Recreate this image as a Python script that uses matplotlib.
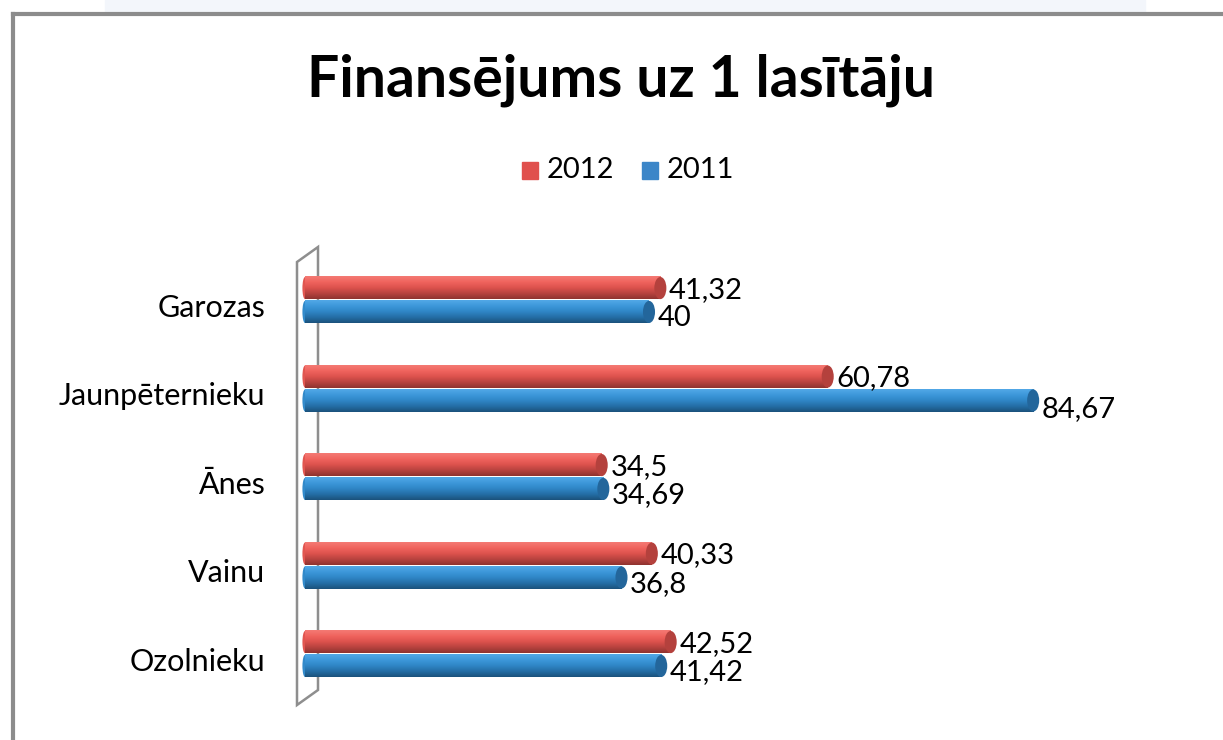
import numpy as np
import matplotlib.pyplot as plt
from matplotlib.patches import Polygon, Ellipse, Rectangle
from matplotlib.colors import LinearSegmentedColormap

categories = ['Garozas', 'Jaunpēternieku', 'Ānes', 'Vainu', 'Ozolnieku']
values_2012 = [41.32, 60.78, 34.5, 40.33, 42.52]
values_2011 = [40, 84.67, 34.69, 36.8, 41.42]
labels_2012 = ['41,32', '60,78', '34,5', '40,33', '42,52']
labels_2011 = ['40', '84,67', '34,69', '36,8', '41,42']

plt.rcParams['font.family'] = ['Lato', 'DejaVu Sans']

W, H = 1223, 740
fig = plt.figure(figsize=(W / 100, H / 100), dpi=100)
fig.patch.set_facecolor('white')

# faint strip above the frame and the frame itself (top + left edges)
fig.patches.append(Rectangle((105 / W, 1 - 12 / H), 1040 / W, 12 / H,
                             transform=fig.transFigure, color='#f3f6fb', zorder=0))
fig.add_artist(plt.Line2D([13 / W, 1.0], [1 - 14 / H, 1 - 14 / H],
                          transform=fig.transFigure, color='#8c8c8c', lw=3))
fig.add_artist(plt.Line2D([13 / W, 13 / W], [1 - 14 / H, 0],
                          transform=fig.transFigure, color='#8c8c8c', lw=3))

fig.text(621 / W, 1 - 80 / H, 'Finansējums uz 1 lasītāju', ha='center', va='center',
         fontsize=41, fontweight='bold', color='black')

# legend
fig.patches.append(Rectangle((522 / W, 1 - 179 / H), 16 / W, 17 / H,
                             transform=fig.transFigure, color='#e0504d'))
fig.text(547 / W, 1 - 170 / H, '2012', ha='left', va='center', fontsize=21)
fig.patches.append(Rectangle((642 / W, 1 - 179 / H), 16 / W, 17 / H,
                             transform=fig.transFigure, color='#3c86c8'))
fig.text(667 / W, 1 - 170 / H, '2011', ha='left', va='center', fontsize=21)

# axes: x=0 at 305px, 8.6 px per unit; category centres 300 + 88.5*i px
x0, xr = 305, 1215
y_top, y_bot = 230, 720
ax = fig.add_axes([x0 / W, 1 - y_bot / H, (xr - x0) / W, (y_bot - y_top) / H])
ax.set_xlim(0, (xr - x0) / 8.6)
ax.axis('off')

red_cmap = LinearSegmentedColormap.from_list('r', ['#f47a74', '#f0645e', '#dd524d', '#b8433f', '#8f3330'])
blue_cmap = LinearSegmentedColormap.from_list('b', ['#52a8e6', '#3d98da', '#2f86c6', '#246ea6', '#1b527c'])
grad = np.linspace(0, 1, 64).reshape(-1, 1)

h = 0.25
off = 0.135
pos = np.arange(len(categories))


def cylinder(y, val, cmap, cap_color):
    ax.imshow(grad, cmap=cmap, extent=(0, val, y + h / 2, y - h / 2),
              aspect='auto', zorder=3, interpolation='bilinear')
    ax.add_patch(Ellipse((val, y), 1.4, h, color=cap_color, zorder=4, lw=0))
    ax.add_patch(Ellipse((0, y), 0.6, h, color=cmap(0.45), zorder=2, lw=0, clip_on=False))


for i, y in enumerate(pos):
    cylinder(y - off, values_2012[i], red_cmap, '#b4413d')
    cylinder(y + off, values_2011[i], blue_cmap, '#23669b')
    ax.text(values_2012[i] + 1.0, y - off + 0.02, labels_2012[i], ha='left', va='center', fontsize=21)
    dy = 0.1 if values_2011[i] > 80 else 0.07
    ax.text(values_2011[i] + 1.0, y + off + dy, labels_2011[i], ha='left', va='center', fontsize=21)
    ax.text(-4.6, y + 0.09, categories[i], ha='right', va='center', fontsize=22)

# 3D side wall
ppx = 1 / 8.6
wall = Polygon([(-8 * ppx, (262 - 300) / 88.5), (13 * ppx, (247 - 300) / 88.5),
                (13 * ppx, (690 - 300) / 88.5), (-8 * ppx, (705 - 300) / 88.5)],
               closed=True, fill=False, edgecolor='#8e8e8e', lw=1.8, zorder=1, clip_on=False)
ax.add_patch(wall)
ax.set_ylim((y_bot - 300) / 88.5, (y_top - 300) / 88.5)

fig.savefig('out.png', dpi=100)
